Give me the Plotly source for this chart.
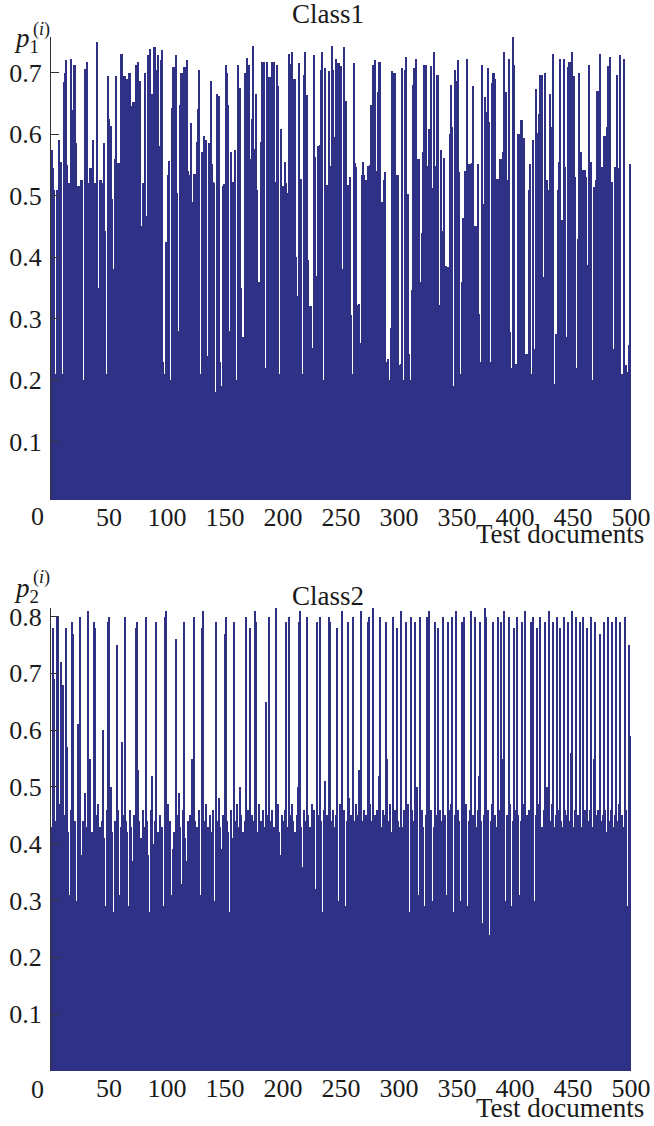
import plotly.graph_objects as go

# Test document numbers 1..500
docs = list(range(1, 501))

# Class 1 membership probability per test document
p1 = [
    0.575, 0.545, 0.51, 0.21, 0.51, 0.51, 0.59, 0.555, 0.555, 0.21, 0.685, 0.70, 0.72, 0.55, 0.52, 0.52, 0.722, 0.64, 0.64, 0.713,
    0.713, 0.585, 0.515, 0.515, 0.43, 0.525, 0.525, 0.20, 0.706, 0.706, 0.717, 0.52, 0.19, 0.545, 0.545, 0.59, 0.25, 0.52, 0.52, 0.75,
    0.35, 0.525, 0.525, 0.52, 0.33, 0.585, 0.443, 0.21, 0.695, 0.625, 0.613, 0.613, 0.495, 0.38, 0.56, 0.695, 0.51, 0.553, 0.553, 0.73,
    0.73, 0.545, 0.695, 0.695, 0.30, 0.69, 0.70, 0.70, 0.645, 0.284, 0.652, 0.652, 0.713, 0.713, 0.718, 0.687, 0.687, 0.45, 0.52, 0.20,
    0.70, 0.467, 0.20, 0.729, 0.738, 0.57, 0.665, 0.546, 0.742, 0.742, 0.705, 0.728, 0.58, 0.533, 0.72, 0.737, 0.23, 0.21, 0.425, 0.425,
    0.534, 0.557, 0.20, 0.643, 0.71, 0.71, 0.40, 0.729, 0.504, 0.28, 0.647, 0.70, 0.70, 0.36, 0.71, 0.71, 0.72, 0.54, 0.21, 0.533,
    0.618, 0.49, 0.536, 0.535, 0.45, 0.588, 0.641, 0.705, 0.21, 0.571, 0.57, 0.597, 0.22, 0.591, 0.24, 0.585, 0.33, 0.686, 0.552, 0.522,
    0.52, 0.18, 0.665, 0.662, 0.662, 0.23, 0.19, 0.515, 0.519, 0.28, 0.713, 0.70, 0.647, 0.28, 0.571, 0.522, 0.522, 0.522, 0.575, 0.20,
    0.713, 0.675, 0.675, 0.35, 0.21, 0.27, 0.70, 0.695, 0.724, 0.713, 0.713, 0.56, 0.624, 0.744, 0.576, 0.35, 0.666, 0.51, 0.36, 0.20,
    0.588, 0.717, 0.717, 0.718, 0.22, 0.717, 0.643, 0.693, 0.693, 0.535, 0.718, 0.718, 0.25, 0.522, 0.713, 0.678, 0.21, 0.608, 0.25, 0.515,
    0.20, 0.555, 0.52, 0.505, 0.731, 0.21, 0.714, 0.734, 0.69, 0.69, 0.40, 0.336, 0.25, 0.716, 0.527, 0.527, 0.21, 0.697, 0.734, 0.618,
    0.664, 0.396, 0.32, 0.32, 0.22, 0.252, 0.729, 0.563, 0.37, 0.58, 0.28, 0.583, 0.705, 0.734, 0.20, 0.708, 0.51, 0.517, 0.517, 0.703,
    0.549, 0.744, 0.705, 0.549, 0.595, 0.722, 0.716, 0.716, 0.20, 0.711, 0.19, 0.38, 0.742, 0.654, 0.518, 0.24, 0.517, 0.53, 0.306, 0.21,
    0.716, 0.553, 0.546, 0.21, 0.322, 0.323, 0.26, 0.534, 0.555, 0.533, 0.525, 0.525, 0.549, 0.20, 0.55, 0.647, 0.42, 0.713, 0.72, 0.39,
    0.54, 0.669, 0.718, 0.718, 0.489, 0.23, 0.525, 0.538, 0.23, 0.21, 0.235, 0.20, 0.284, 0.703, 0.20, 0.70, 0.70, 0.533, 0.533, 0.224,
    0.21, 0.226, 0.707, 0.20, 0.705, 0.725, 0.502, 0.502, 0.243, 0.20, 0.347, 0.68, 0.707, 0.707, 0.722, 0.56, 0.56, 0.18, 0.36, 0.44,
    0.571, 0.713, 0.713, 0.548, 0.276, 0.609, 0.579, 0.711, 0.512, 0.734, 0.549, 0.25, 0.696, 0.696, 0.322, 0.575, 0.19, 0.443, 0.561, 0.22,
    0.386, 0.384, 0.28, 0.60, 0.68, 0.612, 0.19, 0.705, 0.686, 0.541, 0.72, 0.538, 0.21, 0.36, 0.463, 0.408, 0.54, 0.54, 0.723, 0.552,
    0.552, 0.22, 0.553, 0.678, 0.30, 0.45, 0.45, 0.552, 0.307, 0.215, 0.23, 0.713, 0.487, 0.66, 0.34, 0.636, 0.707, 0.62, 0.23, 0.683,
    0.70, 0.70, 0.69, 0.527, 0.527, 0.525, 0.56, 0.56, 0.21, 0.571, 0.734, 0.669, 0.525, 0.19, 0.723, 0.279, 0.22, 0.76, 0.713, 0.226,
    0.226, 0.215, 0.60, 0.60, 0.623, 0.623, 0.594, 0.594, 0.242, 0.242, 0.205, 0.509, 0.551, 0.19, 0.21, 0.59, 0.25, 0.673, 0.602, 0.21,
    0.633, 0.697, 0.697, 0.20, 0.368, 0.70, 0.34, 0.525, 0.51, 0.666, 0.612, 0.612, 0.73, 0.194, 0.275, 0.257, 0.509, 0.555, 0.722, 0.46,
    0.46, 0.722, 0.546, 0.21, 0.27, 0.709, 0.718, 0.718, 0.733, 0.695, 0.695, 0.53, 0.22, 0.429, 0.70, 0.571, 0.571, 0.295, 0.541, 0.541,
    0.53, 0.388, 0.388, 0.713, 0.22, 0.555, 0.20, 0.514, 0.514, 0.525, 0.67, 0.67, 0.731, 0.546, 0.546, 0.546, 0.597, 0.597, 0.612, 0.711,
    0.711, 0.726, 0.522, 0.522, 0.25, 0.546, 0.24, 0.696, 0.545, 0.545, 0.729, 0.21, 0.21, 0.722, 0.225, 0.225, 0.214, 0.257, 0.552, 0.41,
]

# Class 2 membership probability per test document
p2 = [
    0.43, 0.78, 0.69, 0.44, 0.80, 0.80, 0.34, 0.47, 0.72, 0.68, 0.29, 0.45, 0.78, 0.57, 0.42, 0.31, 0.46, 0.79, 0.77, 0.40,
    0.44, 0.30, 0.61, 0.45, 0.80, 0.38, 0.27, 0.44, 0.49, 0.43, 0.33, 0.81, 0.46, 0.55, 0.42, 0.30, 0.79, 0.78, 0.45, 0.30,
    0.47, 0.43, 0.36, 0.44, 0.60, 0.41, 0.29, 0.46, 0.79, 0.80, 0.45, 0.50, 0.42, 0.28, 0.44, 0.39, 0.75, 0.46, 0.31, 0.43,
    0.58, 0.45, 0.34, 0.80, 0.44, 0.42, 0.29, 0.46, 0.43, 0.37, 0.30, 0.45, 0.78, 0.79, 0.53, 0.44, 0.27, 0.41, 0.46, 0.43,
    0.32, 0.80, 0.44, 0.38, 0.28, 0.46, 0.52, 0.40, 0.26, 0.44, 0.79, 0.42, 0.30, 0.45, 0.36, 0.43, 0.29, 0.80, 0.81, 0.41,
    0.47, 0.34, 0.44, 0.31, 0.39, 0.42, 0.28, 0.76, 0.45, 0.49, 0.43, 0.33, 0.27, 0.46, 0.79, 0.41, 0.37, 0.44, 0.30, 0.45,
    0.42, 0.55, 0.80, 0.44, 0.28, 0.43, 0.40, 0.46, 0.31, 0.78, 0.81, 0.44, 0.35, 0.47, 0.43, 0.29, 0.45, 0.42, 0.38, 0.46,
    0.30, 0.79, 0.44, 0.27, 0.48, 0.43, 0.39, 0.45, 0.31, 0.77, 0.80, 0.44, 0.42, 0.28, 0.46, 0.41, 0.36, 0.79, 0.44, 0.47,
    0.29, 0.43, 0.50, 0.45, 0.32, 0.42, 0.44, 0.80, 0.28, 0.46, 0.43, 0.78, 0.45, 0.30, 0.44, 0.81, 0.79, 0.42, 0.47, 0.37,
    0.44, 0.29, 0.46, 0.43, 0.65, 0.45, 0.31, 0.80, 0.44, 0.41, 0.46, 0.43, 0.30, 0.82, 0.44, 0.47, 0.42, 0.38, 0.45, 0.29,
    0.44, 0.46, 0.79, 0.43, 0.80, 0.45, 0.31, 0.47, 0.44, 0.42, 0.28, 0.45, 0.50, 0.79, 0.81, 0.43, 0.36, 0.46, 0.30, 0.44,
    0.80, 0.45, 0.43, 0.29, 0.47, 0.44, 0.46, 0.32, 0.79, 0.42, 0.45, 0.80, 0.44, 0.28, 0.46, 0.51, 0.43, 0.45, 0.30, 0.80,
    0.79, 0.44, 0.46, 0.37, 0.43, 0.45, 0.78, 0.30, 0.47, 0.44, 0.81, 0.43, 0.46, 0.29, 0.44, 0.79, 0.48, 0.42, 0.45, 0.80,
    0.44, 0.31, 0.47, 0.43, 0.45, 0.53, 0.81, 0.44, 0.30, 0.46, 0.43, 0.45, 0.79, 0.80, 0.47, 0.44, 0.36, 0.82, 0.45, 0.29,
    0.46, 0.44, 0.52, 0.80, 0.43, 0.46, 0.29, 0.45, 0.79, 0.55, 0.44, 0.47, 0.31, 0.42, 0.80, 0.45, 0.46, 0.78, 0.44, 0.43,
    0.30, 0.81, 0.43, 0.46, 0.44, 0.79, 0.45, 0.47, 0.28, 0.80, 0.46, 0.44, 0.43, 0.79, 0.45, 0.50, 0.31, 0.80, 0.44, 0.46,
    0.43, 0.29, 0.45, 0.80, 0.47, 0.81, 0.44, 0.46, 0.30, 0.43, 0.79, 0.45, 0.44, 0.78, 0.46, 0.29, 0.44, 0.80, 0.43, 0.45,
    0.31, 0.79, 0.46, 0.44, 0.47, 0.80, 0.28, 0.45, 0.81, 0.43, 0.46, 0.44, 0.30, 0.79, 0.45, 0.80, 0.43, 0.47, 0.29, 0.44,
    0.46, 0.81, 0.44, 0.45, 0.30, 0.80, 0.43, 0.46, 0.52, 0.79, 0.44, 0.26, 0.45, 0.82, 0.80, 0.43, 0.46, 0.24, 0.44, 0.47,
    0.79, 0.29, 0.45, 0.43, 0.80, 0.46, 0.28, 0.79, 0.55, 0.44, 0.81, 0.30, 0.45, 0.43, 0.80, 0.47, 0.29, 0.44, 0.78, 0.46,
    0.42, 0.80, 0.45, 0.31, 0.44, 0.79, 0.47, 0.43, 0.81, 0.45, 0.29, 0.46, 0.44, 0.79, 0.43, 0.80, 0.30, 0.45, 0.78, 0.47,
    0.44, 0.80, 0.43, 0.29, 0.46, 0.79, 0.45, 0.50, 0.81, 0.44, 0.30, 0.47, 0.79, 0.43, 0.45, 0.80, 0.28, 0.46, 0.78, 0.44,
    0.43, 0.80, 0.46, 0.30, 0.45, 0.79, 0.44, 0.56, 0.81, 0.43, 0.29, 0.46, 0.80, 0.45, 0.44, 0.79, 0.27, 0.43, 0.80, 0.46,
    0.45, 0.78, 0.44, 0.30, 0.46, 0.80, 0.43, 0.55, 0.79, 0.45, 0.28, 0.46, 0.77, 0.44, 0.27, 0.45, 0.79, 0.46, 0.42, 0.80,
    0.44, 0.31, 0.46, 0.79, 0.43, 0.45, 0.80, 0.28, 0.44, 0.47, 0.79, 0.45, 0.30, 0.43, 0.80, 0.46, 0.29, 0.75, 0.59, 0.59,
]

x_ticks = [50, 100, 150, 200, 250, 300, 350, 400, 450, 500]
y1_ticks = [0.1, 0.2, 0.3, 0.4, 0.5, 0.6, 0.7]
y2_ticks = [0.1, 0.2, 0.3, 0.4, 0.5, 0.6, 0.7, 0.8]

BAR = "#2f3187"
FONT = "Liberation Serif"
TXT = "#1a1a1a"

fig = go.Figure()
fig.add_trace(go.Bar(x=docs, y=p1, width=1, marker=dict(color=BAR, line=dict(width=0)),
                     xaxis="x", yaxis="y", showlegend=False))
fig.add_trace(go.Bar(x=docs, y=p2, width=1, marker=dict(color=BAR, line=dict(width=0)),
                     xaxis="x2", yaxis="y2", showlegend=False))

xcommon = dict(range=[0, 500], tickvals=x_ticks, ticks="", showline=False, showgrid=False,
               zeroline=False, automargin=False,
               tickfont=dict(family=FONT, size=26, color=TXT), ticklabelstandoff=-1)
ycommon = dict(showline=True, linecolor="#333", linewidth=1, ticks="inside", ticklen=8,
               tickcolor="#333", showgrid=False, zeroline=False, tickformat=".1f", automargin=False,
               tickfont=dict(family=FONT, size=26, color=TXT), ticklabelstandoff=3)

fig.update_layout(
    width=654, height=1126,
    margin=dict(l=51, r=23, t=37, b=55, autoexpand=False),
    paper_bgcolor="white", plot_bgcolor="white",
    bargap=0,
    xaxis=dict(domain=[0, 1], anchor="y", **xcommon),
    yaxis=dict(domain=[0.5522, 1], anchor="x", range=[0.005, 0.758], tickvals=y1_ticks, **ycommon),
    xaxis2=dict(domain=[0, 1], anchor="y2", **xcommon),
    yaxis2=dict(domain=[0, 0.4478], anchor="x2", range=[0, 0.815], tickvals=y2_ticks, **ycommon),
)

ann = []
# panel titles
ann.append(dict(text="Class1", x=0.477, y=1.0222, xref="paper", yref="paper",
                xanchor="center", yanchor="middle", showarrow=False,
                font=dict(family=FONT, size=27, color=TXT)))
ann.append(dict(text="Class2", x=0.477, y=0.459, xref="paper", yref="paper",
                xanchor="center", yanchor="middle", showarrow=False,
                font=dict(family=FONT, size=27, color=TXT)))
# "0" labels at the origin of each x axis
for yy in (0.5358, -0.0183):
    ann.append(dict(text="0", x=-0.0241, y=yy, xref="paper", yref="paper",
                    xanchor="center", yanchor="middle", showarrow=False,
                    font=dict(family=FONT, size=26, color=TXT)))
# x axis titles
for yy in (0.5194, -0.0360):
    ann.append(dict(text="Test documents", x=1.0259, y=yy, xref="paper", yref="paper",
                    xanchor="right", yanchor="middle", showarrow=False,
                    font=dict(family=FONT, size=27, color=TXT)))
# y axis labels p_k^(i)
for k, yy, ys in ((1, 0.9971, 1.0068), (2, 0.4652, 0.4768)):
    ann.append(dict(text=f"<i>p</i><sub>{k}</sub>", x=-0.067, y=yy, xref="paper", yref="paper",
                    xanchor="left", yanchor="middle", showarrow=False,
                    font=dict(family=FONT, size=27, color=TXT)))
    ann.append(dict(text="(<i>i</i>)", x=-0.034, y=ys, xref="paper", yref="paper",
                    xanchor="left", yanchor="middle", showarrow=False,
                    font=dict(family=FONT, size=18, color=TXT)))
fig.update_layout(annotations=ann)

fig.write_html("out.html")
